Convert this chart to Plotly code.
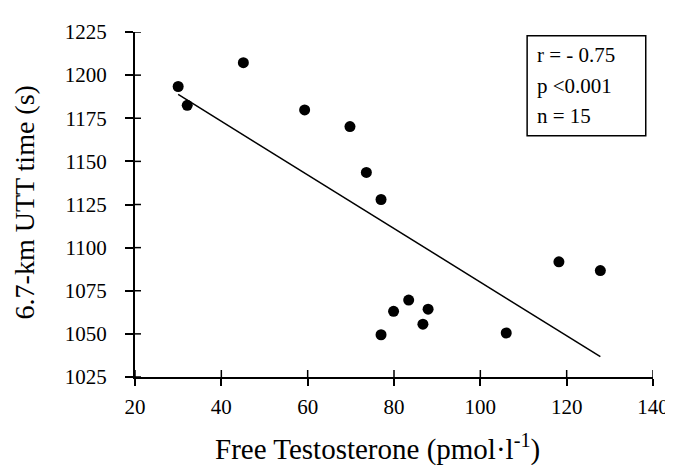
import plotly.graph_objects as go

# Data
free_testosterone = [30.0, 32.1, 45.1, 59.3, 69.8, 73.6, 77.0, 77.0, 79.9, 83.4, 86.7, 87.9, 106.0, 118.2, 127.8]
utt_time = [1193.4, 1182.5, 1207.2, 1179.8, 1170.2, 1143.6, 1127.9, 1049.5, 1063.1, 1069.6, 1055.6, 1064.3, 1050.5, 1091.8, 1086.7]

fit_x = [30.0, 127.8]
fit_y = [1188.8, 1036.8]

x_ticks = [20, 40, 60, 80, 100, 120, 140]
y_ticks = [1025, 1050, 1075, 1100, 1125, 1150, 1175, 1200, 1225]

stats_lines = ["r = - 0.75", "p <0.001", "n = 15"]

x_title = "Free Testosterone (pmol·l<sup>-1</sup>)"
y_title = "6.7-km UTT time (s)"

FONT = "Liberation Serif"
X_RANGE = [20, 140]
Y_RANGE = [1025, 1225]

fig = go.Figure()
fig.add_trace(go.Scatter(x=fit_x, y=fit_y, mode="lines",
                         line=dict(color="black", width=1.5), showlegend=False,
                         hoverinfo="skip"))
fig.add_trace(go.Scatter(x=free_testosterone, y=utt_time, mode="markers",
                         marker=dict(color="black", size=11, symbol="circle"),
                         showlegend=False))

axis_common = dict(showgrid=False, zeroline=False, color="black",
                   tickfont=dict(family=FONT, size=21, color="black"))

fig.update_layout(
    width=673, height=465, autosize=False,
    paper_bgcolor="white", plot_bgcolor="white",
    margin=dict(l=127, r=19, t=21, b=96),
    font=dict(family=FONT, color="black"),
    xaxis=dict(range=X_RANGE, tickvals=x_ticks, ticks="outside", ticklen=7,
               tickwidth=1.5, tickcolor="black", showline=True, linewidth=2,
               linecolor="black", ticklabelstandoff=3, **axis_common),
    yaxis=dict(range=Y_RANGE, tickvals=y_ticks, ticks="outside", ticklen=8,
               tickwidth=1.5, tickcolor="black", showline=True, linewidth=2,
               linecolor="black", ticklabelstandoff=14, **axis_common),
)

# inner halves of the crossing tick marks
for xv in x_ticks:
    fig.add_shape(type="line", xref="x", yref="paper", ysizemode="pixel", yanchor=0,
                  x0=xv, x1=xv, y0=0, y1=7, line=dict(color="black", width=1.5))
for yv in y_ticks:
    fig.add_shape(type="line", xref="paper", yref="y", xsizemode="pixel", xanchor=0,
                  x0=0, x1=6, y0=yv, y1=yv, line=dict(color="black", width=1.5))

# stats box
fig.add_shape(type="rect", xref="paper", yref="paper",
              x0=0.757, x1=0.986, y0=0.699, y1=0.989,
              line=dict(color="black", width=1.5), fillcolor="white", layer="above")
for txt, yy in zip(stats_lines, [0.933, 0.844, 0.757]):
    fig.add_annotation(text=txt, xref="paper", yref="paper", x=0.772, y=yy,
                       xanchor="left", yanchor="middle", showarrow=False,
                       font=dict(family=FONT, size=21, color="black"))

# axis titles
fig.add_annotation(text=x_title, xref="paper", yref="paper", x=0.468, y=-0.205,
                   xanchor="center", yanchor="middle", showarrow=False,
                   font=dict(family=FONT, size=29, color="black"))
fig.add_annotation(text=y_title, xref="paper", yref="paper", x=-0.213, y=0.505,
                   xanchor="center", yanchor="middle", textangle=-90, showarrow=False,
                   font=dict(family=FONT, size=28, color="black"))

fig.write_html("out.html")
